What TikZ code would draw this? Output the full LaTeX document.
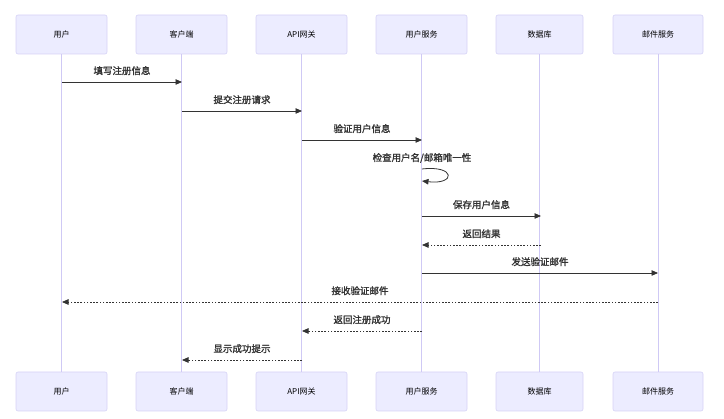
\documentclass[tikz,border=0pt]{standalone}
\usepackage{fontspec}
\setmainfont{Noto Sans CJK SC}
\newfontfamily\cjkb{Noto Sans CJK SC}[FakeBold=1.6]
\usetikzlibrary{arrows.meta}
\definecolor{actfill}{HTML}{ECECFF}
\definecolor{actline}{HTML}{D6D2F6}
\definecolor{lifeln}{HTML}{CFC9F5}
\definecolor{msgc}{HTML}{333333}
\begin{document}
\begin{tikzpicture}[x=1pt,y=1pt,
  actor/.style={draw=actline, fill=actfill, rounded corners=2pt, line width=0.6pt,
    minimum height=39pt, inner sep=0pt, font=\fontsize{8}{10}\selectfont, text=black},
  life/.style={draw=lifeln, line width=0.8pt},
  msg/.style={draw=msgc, line width=0.8pt, -{Triangle[length=6.5pt,width=5.5pt]}},
  rmsg/.style={msg, dash pattern=on 1.6pt off 1.6pt},
  lbl/.style={font=\cjkb\fontsize{9.5}{11}\selectfont, text=msgc, inner sep=0pt}]
\useasboundingbox (0,0) rectangle (724,-419);
% actors top
\node[actor, minimum width=91pt] (t1) at (61.5,-34.5) {用户};
\node[actor, minimum width=91pt] (t2) at (181.5,-34.5) {客户端};
\node[actor, minimum width=91pt] (t3) at (301.5,-34.5) {API网关};
\node[actor, minimum width=91pt] (t4) at (421.5,-34.5) {用户服务};
\node[actor, minimum width=87pt] (t5) at (539.5,-34.5) {数据库};
\node[actor, minimum width=90pt] (t6) at (658,-34.5) {邮件服务};
% actors bottom
\node[actor, minimum width=91pt] (b1) at (61.5,-391.5) {用户};
\node[actor, minimum width=91pt] (b2) at (181.5,-391.5) {客户端};
\node[actor, minimum width=91pt] (b3) at (301.5,-391.5) {API网关};
\node[actor, minimum width=91pt] (b4) at (421.5,-391.5) {用户服务};
\node[actor, minimum width=87pt] (b5) at (539.5,-391.5) {数据库};
\node[actor, minimum width=90pt] (b6) at (658,-391.5) {邮件服务};
% lifelines
\foreach \i in {1,...,6} {\draw[life] (t\i.south) -- (b\i.north);}
% message end points
\coordinate (m1a) at (62,-82);  \coordinate (m1b) at (182,-82);
\coordinate (m2a) at (182,-111); \coordinate (m2b) at (302,-111);
\coordinate (m3a) at (302,-140); \coordinate (m3b) at (422,-140);
\coordinate (m4a) at (422,-169); \coordinate (m4b) at (422,-181);
\coordinate (m5a) at (422,-216); \coordinate (m5b) at (541,-216);
\coordinate (m6a) at (541,-245); \coordinate (m6b) at (422,-245);
\coordinate (m7a) at (422,-273); \coordinate (m7b) at (658,-273);
\coordinate (m8a) at (658,-302); \coordinate (m8b) at (62,-302);
\coordinate (m9a) at (422,-331); \coordinate (m9b) at (302,-331);
\coordinate (m10a) at (302,-360); \coordinate (m10b) at (182,-360);
% messages
\draw[msg] (m1a) -- (m1b) node[lbl, midway, above=6.5pt] (l1) {填写注册信息};
\draw[msg] (m2a) -- (m2b) node[lbl, midway, above=6.5pt] (l2) {提交注册请求};
\draw[msg] (m3a) -- (m3b) node[lbl, midway, above=6.5pt] (l3) {验证用户信息};
\node[lbl] (l4) at (422,-158) {检查用户名/邮箱唯一性};
\draw[msg] (m4a) .. controls (456,-165) and (456,-185) .. (m4b);
\draw[msg] (m5a) -- (m5b) node[lbl, midway, above=6.5pt] (l5) {保存用户信息};
\draw[rmsg] (m6a) -- (m6b) node[lbl, midway, above=6.5pt] (l6) {返回结果};
\draw[msg] (m7a) -- (m7b) node[lbl, midway, above=6.5pt] (l7) {发送验证邮件};
\draw[rmsg] (m8a) -- (m8b) node[lbl, midway, above=6.5pt] (l8) {接收验证邮件};
\draw[rmsg] (m9a) -- (m9b) node[lbl, midway, above=6.5pt] (l9) {返回注册成功};
\draw[rmsg] (m10a) -- (m10b) node[lbl, midway, above=6.5pt] (l10) {显示成功提示};
\end{tikzpicture}
\end{document}
